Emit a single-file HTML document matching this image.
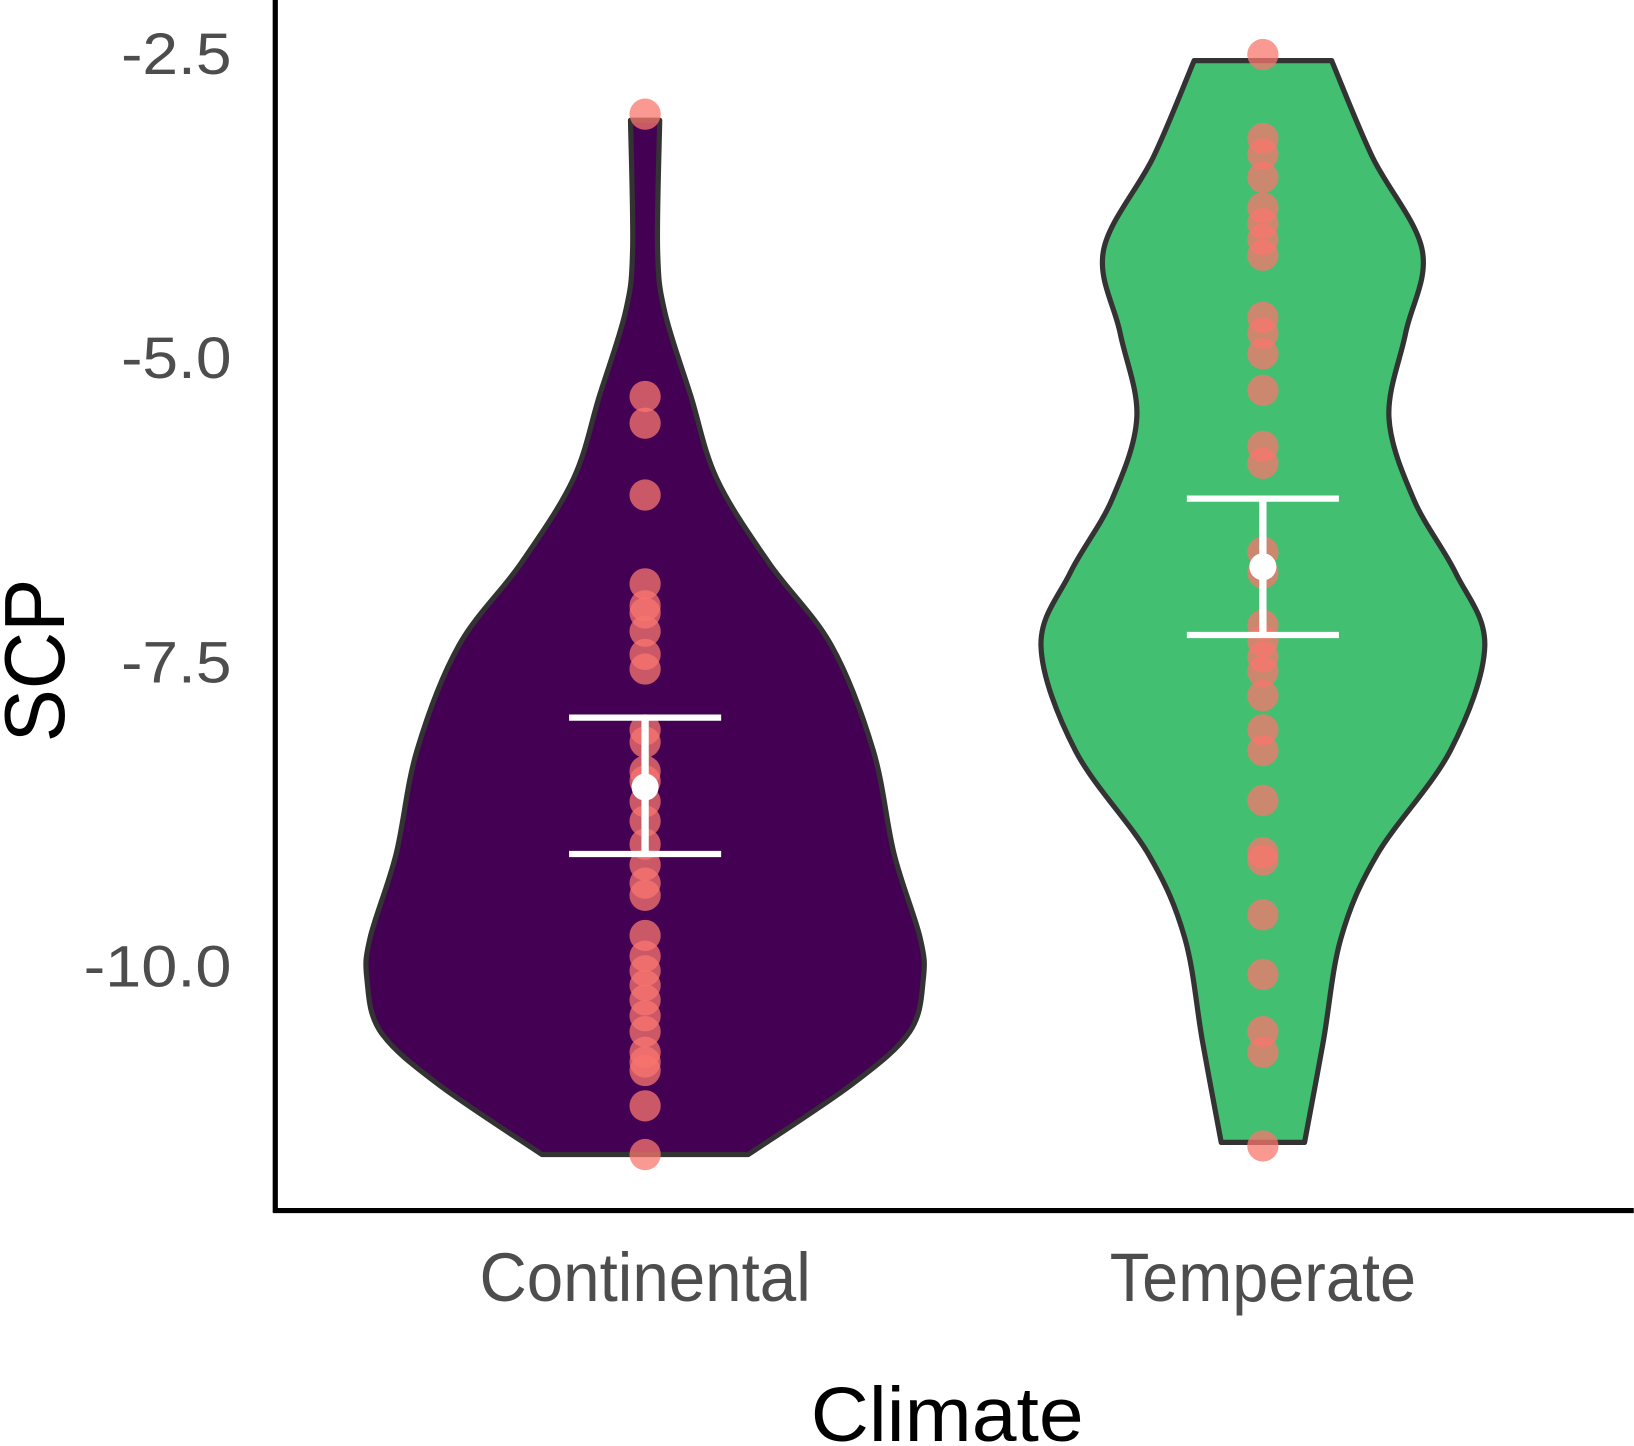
<!DOCTYPE html>
<html><head><meta charset="utf-8"><style>
html,body{margin:0;padding:0;background:#fff;}
svg{display:block;}
</style></head><body>
<svg id="chart" width="1634" height="1446" viewBox="0 0 1568 1388" xmlns="http://www.w3.org/2000/svg" font-family="Liberation Sans, sans-serif">
<g id="violins"></g>
<g id="points"></g>
<g id="errs"></g>
<g id="axes">
  <line x1="264" y1="0" x2="264" y2="1164" stroke="#000" stroke-width="5"/>
  <line x1="262" y1="1162" x2="1568" y2="1162" stroke="#000" stroke-width="5"/>
</g>
<g id="yticks"></g>
<g id="xticks"></g>
<text x="909" y="1383" font-size="74" text-anchor="middle" textLength="262" lengthAdjust="spacingAndGlyphs" fill="#000">Climate</text>
<text transform="translate(61,634) rotate(-90)" font-size="82" text-anchor="middle" textLength="157" lengthAdjust="spacingAndGlyphs" fill="#000">SCP</text>
</svg>
<script>
const categories = ["Continental", "Temperate"];
const yTicks = [-2.5, -5.0, -7.5, -10.0];
const yTickLabels = ["-2.5", "-5.0", "-7.5", "-10.0"];
const fills = ["#440154", "#43bf71"];
const contProfileY = [-3.06,-4.13,-4.64,-5.33,-6.01,-6.70,-7.38,-8.24,-9.09,-9.78,-10.12,-10.55,-10.98,-11.56];
const contProfileW = [14,12,19,44,69,119,179,219,239,264,267,254,199,99];
const tempProfileY = [-2.57,-3.36,-4.13,-4.81,-5.50,-6.18,-6.78,-7.38,-8.24,-9.09,-9.78,-10.63,-11.46];
const tempProfileW = [66,105,153,137,121,145,185,213,180,110,75,58,40];
const contPoints = [-3.01,-5.33,-5.55,-6.14,-6.87,-7.05,-7.11,-7.26,-7.45,-7.57,-8.07,-8.17,-8.41,-8.49,-8.66,-8.82,-9.01,-9.18,-9.33,-9.43,-9.76,-9.93,-10.05,-10.17,-10.29,-10.42,-10.55,-10.72,-10.80,-10.87,-11.16,-11.56];
const tempPoints = [-2.52,-3.21,-3.34,-3.53,-3.78,-3.91,-4.04,-4.17,-4.68,-4.81,-4.98,-5.28,-5.74,-5.88,-6.61,-6.78,-7.21,-7.34,-7.47,-7.59,-7.79,-8.07,-8.24,-8.65,-9.08,-9.14,-9.59,-10.08,-10.55,-10.72,-11.49];
const means = [-8.54, -6.73];
const upper = [-7.97, -6.17];
const lower = [-9.09, -7.29];

const NS = "http://www.w3.org/2000/svg";
function yScale(v){ return 50 + (-2.5 - v) / 2.5 * 292; }
function xScale(i){ return 619 + i * 593; }
function mk(tag, attrs, parent){
  const e = document.createElementNS(NS, tag);
  for (const k in attrs) e.setAttribute(k, attrs[k]);
  parent.appendChild(e); return e;
}
function smoothSide(pts){
  let d = "";
  for (let i = 0; i < pts.length - 1; i++){
    const p0 = pts[Math.max(i-1,0)], p1 = pts[i], p2 = pts[i+1], p3 = pts[Math.min(i+2,pts.length-1)];
    const c1 = [p1[0] + (p2[0]-p0[0])/6, p1[1] + (p2[1]-p0[1])/6];
    const c2 = [p2[0] - (p3[0]-p1[0])/6, p2[1] - (p3[1]-p1[1])/6];
    d += " C" + c1[0] + "," + c1[1] + " " + c2[0] + "," + c2[1] + " " + p2[0] + "," + p2[1];
  }
  return d;
}
const profiles = [[contProfileY, contProfileW], [tempProfileY, tempProfileW]];
const pointSets = [contPoints, tempPoints];
const gV = document.getElementById("violins");
const gP = document.getElementById("points");
const gE = document.getElementById("errs");
profiles.forEach((pr, i) => {
  const cx = xScale(i);
  const left = pr[0].map((v, j) => [cx - pr[1][j], yScale(v)]);
  const right = pr[0].map((v, j) => [cx + pr[1][j], yScale(v)]).reverse();
  let d = "M" + left[0][0] + "," + left[0][1] + smoothSide(left) + " L" + right[0][0] + "," + right[0][1] + smoothSide(right) + " Z";
  const p = mk("path", {d: d, fill: fills[i], stroke: "#333", "stroke-width": 5, "stroke-linejoin": "round"}, gV);
  
  
});
pointSets.forEach((ps, i) => {
  ps.forEach(v => {
    const c = mk("circle", {cx: xScale(i), cy: yScale(v), r: 15, fill: "#f8766d", "fill-opacity": 0.75}, gP);
    
    
  });
});
means.forEach((m, i) => {
  const cx = xScale(i);
  const l1 = mk("line", {x1: cx, x2: cx, y1: yScale(upper[i]), y2: yScale(lower[i]), stroke: "#fff", "stroke-width": 7}, gE);
  
  
  [upper[i], lower[i]].forEach(v => {
    const l = mk("line", {x1: cx - 73, x2: cx + 73, y1: yScale(v), y2: yScale(v), stroke: "#fff", "stroke-width": 6}, gE);
    
    
  });
  const c = mk("circle", {cx: cx, cy: yScale(m), r: 13, fill: "#fff"}, gE);
  
  
});
const gY = document.getElementById("yticks");
yTicks.forEach((v, i) => {
  const t = mk("text", {x: 222, y: yScale(v) + 21, "font-size": 56, "text-anchor": "end", fill: "#4d4d4d"}, gY);
  t.textContent = yTickLabels[i];
  t.setAttribute("textLength", yTickLabels[i].length === 5 ? 142 : 106);
  t.setAttribute("lengthAdjust", "spacingAndGlyphs");
  
  
});
const gX = document.getElementById("xticks");
const xLens = [318, 294];
categories.forEach((c, i) => {
  const t = mk("text", {x: xScale(i), y: 1249, "font-size": 66, "text-anchor": "middle", fill: "#4d4d4d", textLength: xLens[i], lengthAdjust: "spacingAndGlyphs"}, gX);
  t.textContent = c;
  
  
});
</script>
</body></html>
